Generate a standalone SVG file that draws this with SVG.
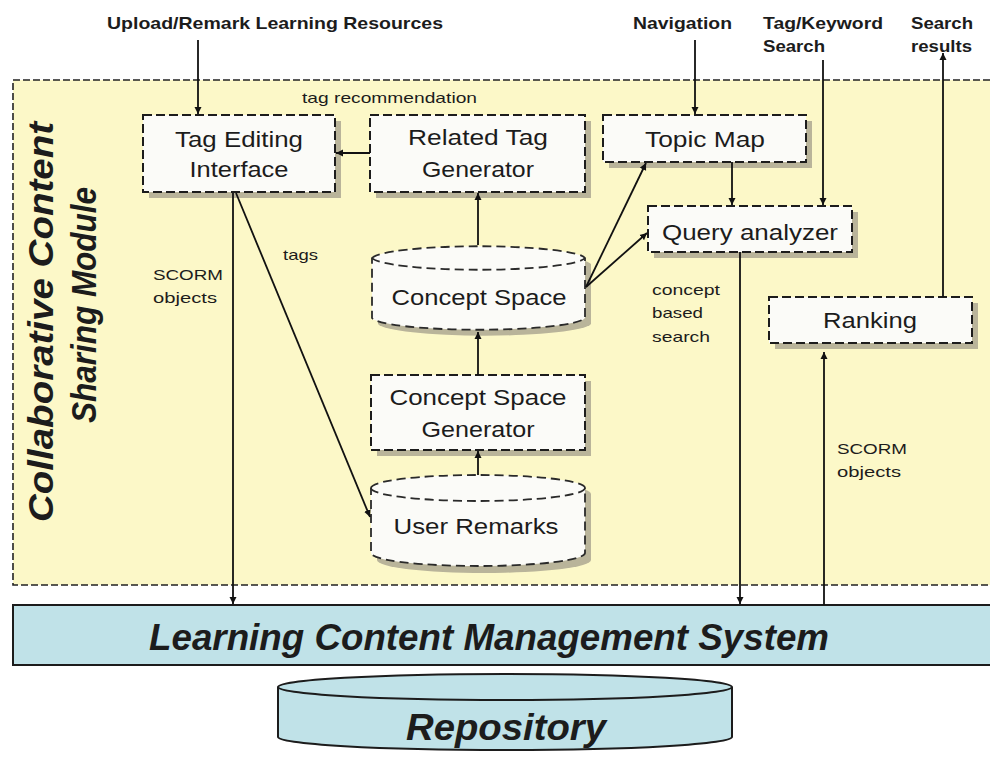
<svg xmlns="http://www.w3.org/2000/svg" width="990" height="757" viewBox="0 0 990 757">
  <style>
    text { font-family: "Liberation Sans", Arial, sans-serif; fill: #1c1c1c; }
    .top { font-size: 17px; font-weight: bold; }
    .node { font-size: 22px; text-anchor: middle; }
    .lbl { font-size: 15px; }
    .big { font-size: 37px; font-weight: bold; font-style: italic; text-anchor: middle; }
    .title { font-size: 35px; font-weight: bold; font-style: italic; text-anchor: middle; }
    .box { fill: #fbfbf8; stroke: #1c1c1c; stroke-width: 2; stroke-dasharray: 9 4; }
    .cyl { fill: #fbfbf8; stroke: #2a2a2a; stroke-width: 1.8; stroke-dasharray: 9 5; }
    .shadow { fill: #b9b49a; }
    .edge { fill: none; stroke: #111; stroke-width: 1.8; }
  </style>
  <defs>
    <marker id="arrow" markerWidth="8" markerHeight="8" refX="7" refY="4" orient="auto" markerUnits="userSpaceOnUse">
      <path d="M0,0.5 L7,4 L0,7.5 z" fill="#111"/>
    </marker>
  </defs>

  <rect width="990" height="757" fill="#ffffff"/>

  <!-- module container -->
  <g id="module">
    <rect x="13" y="80" width="990" height="505" fill="#fcf8c8" stroke="#222" stroke-width="1.6" stroke-dasharray="7 3"/>
    <text class="title" transform="translate(53,322) rotate(-90)" textLength="400" lengthAdjust="spacingAndGlyphs">Collaborative Content</text>
    <text class="title" transform="translate(96,305) rotate(-90)" textLength="236" lengthAdjust="spacingAndGlyphs">Sharing Module</text>
  </g>

  <!-- external inputs / outputs -->
  <g id="inputs">
    <text class="top" x="107" y="29" textLength="336" lengthAdjust="spacingAndGlyphs">Upload/Remark Learning Resources</text>
    <text class="top" x="633" y="29" textLength="99" lengthAdjust="spacingAndGlyphs">Navigation</text>
    <text class="top" x="763" y="29" textLength="120" lengthAdjust="spacingAndGlyphs">Tag/Keyword</text>
    <text class="top" x="763" y="52" textLength="62" lengthAdjust="spacingAndGlyphs">Search</text>
    <text class="top" x="911" y="29" textLength="62" lengthAdjust="spacingAndGlyphs">Search</text>
    <text class="top" x="911" y="52" textLength="61" lengthAdjust="spacingAndGlyphs">results</text>
  </g>

  <g id="tag-editing">
    <rect class="shadow" x="149" y="121" width="192" height="77"/>
    <rect class="box" x="143" y="115" width="192" height="77"/>
    <text class="node" x="239" y="147" textLength="128" lengthAdjust="spacingAndGlyphs">Tag Editing</text>
    <text class="node" x="239" y="177" textLength="99" lengthAdjust="spacingAndGlyphs">Interface</text>
  </g>

  <g id="related-tag">
    <rect class="shadow" x="376" y="121" width="215" height="77"/>
    <rect class="box" x="370" y="115" width="215" height="77"/>
    <text class="node" x="478" y="145" textLength="140" lengthAdjust="spacingAndGlyphs">Related Tag</text>
    <text class="node" x="478" y="177" textLength="112" lengthAdjust="spacingAndGlyphs">Generator</text>
  </g>

  <g id="topic-map">
    <rect class="shadow" x="609" y="121" width="203" height="47"/>
    <rect class="box" x="603" y="115" width="203" height="47"/>
    <text class="node" x="705" y="147" textLength="120" lengthAdjust="spacingAndGlyphs">Topic Map</text>
  </g>

  <g id="query-analyzer">
    <rect class="shadow" x="654" y="212" width="204" height="46"/>
    <rect class="box" x="648" y="206" width="204" height="46"/>
    <text class="node" x="750" y="240" textLength="176" lengthAdjust="spacingAndGlyphs">Query analyzer</text>
  </g>

  <g id="ranking">
    <rect class="shadow" x="775" y="303" width="203" height="46"/>
    <rect class="box" x="769" y="297" width="203" height="46"/>
    <text class="node" x="870" y="328" textLength="94" lengthAdjust="spacingAndGlyphs">Ranking</text>
  </g>

  <g id="concept-space">
    <path class="shadow" d="M378,264 A107,13 0 0 1 591,264 V324 A107,13 0 0 1 378,324 Z"/>
    <path class="cyl" d="M372,258 A107,13 0 0 1 585,258 V318 A107,13 0 0 1 372,318 Z"/>
    <path class="cyl" d="M372,258 A107,13 0 0 0 585,258" fill="none"/>
    <text class="node" x="479" y="305" textLength="175" lengthAdjust="spacingAndGlyphs">Concept Space</text>
  </g>

  <g id="concept-space-generator">
    <rect class="shadow" x="377" y="381" width="214" height="75"/>
    <rect class="box" x="371" y="375" width="214" height="75"/>
    <text class="node" x="478" y="405" textLength="177" lengthAdjust="spacingAndGlyphs">Concept Space</text>
    <text class="node" x="478" y="437" textLength="113" lengthAdjust="spacingAndGlyphs">Generator</text>
  </g>

  <g id="user-remarks">
    <path class="shadow" d="M377,494 A107,13 0 0 1 591,494 V560 A107,13 0 0 1 377,560 Z"/>
    <path class="cyl" d="M371,488 A107,13 0 0 1 585,488 V553 A107,13 0 0 1 371,553 Z"/>
    <path class="cyl" d="M371,488 A107,13 0 0 0 585,488" fill="none"/>
    <text class="node" x="476" y="534" textLength="165" lengthAdjust="spacingAndGlyphs">User Remarks</text>
  </g>

  <g id="lcms">
    <rect x="13" y="605" width="990" height="60" fill="#c0e2e8" stroke="#1c1c1c" stroke-width="2"/>
    <text class="big" x="489" y="650" textLength="680" lengthAdjust="spacingAndGlyphs">Learning Content Management System</text>
  </g>

  <g id="repository">
    <path d="M278,687 A227,13 0 0 1 732,687 V737 A227,13 0 0 1 278,737 Z" fill="#c0e2e8" stroke="#1c1c1c" stroke-width="2"/>
    <path d="M278,687 A227,13 0 0 0 732,687" fill="none" stroke="#1c1c1c" stroke-width="2"/>
    <text class="big" x="506" y="740" textLength="200" lengthAdjust="spacingAndGlyphs">Repository</text>
  </g>

  <!-- edge labels -->
  <g id="labels">
    <text class="lbl" x="302" y="103" textLength="175" lengthAdjust="spacingAndGlyphs">tag recommendation</text>
    <text class="lbl" x="153" y="280" textLength="70" lengthAdjust="spacingAndGlyphs">SCORM</text>
    <text class="lbl" x="153" y="303" textLength="64" lengthAdjust="spacingAndGlyphs">objects</text>
    <text class="lbl" x="283" y="260" textLength="35" lengthAdjust="spacingAndGlyphs">tags</text>
    <text class="lbl" x="652" y="295" textLength="68" lengthAdjust="spacingAndGlyphs">concept</text>
    <text class="lbl" x="652" y="318" textLength="51" lengthAdjust="spacingAndGlyphs">based</text>
    <text class="lbl" x="652" y="342" textLength="58" lengthAdjust="spacingAndGlyphs">search</text>
    <text class="lbl" x="837" y="454" textLength="70" lengthAdjust="spacingAndGlyphs">SCORM</text>
    <text class="lbl" x="837" y="477" textLength="64" lengthAdjust="spacingAndGlyphs">objects</text>
  </g>

  <!-- connectors -->
  <g id="connectors">
    <line class="edge" x1="198" y1="40" x2="198" y2="114" marker-end="url(#arrow)"/>
    <line class="edge" x1="370" y1="153" x2="336" y2="153" marker-end="url(#arrow)"/>
    <line class="edge" x1="478" y1="245" x2="478" y2="193" marker-end="url(#arrow)"/>
    <line class="edge" x1="478" y1="375" x2="478" y2="332" marker-end="url(#arrow)"/>
    <line class="edge" x1="478" y1="475" x2="478" y2="451" marker-end="url(#arrow)"/>
    <line class="edge" x1="586" y1="287" x2="646" y2="163" marker-end="url(#arrow)"/>
    <line class="edge" x1="586" y1="287" x2="647" y2="233" marker-end="url(#arrow)"/>
    <line class="edge" x1="695" y1="40" x2="695" y2="114" marker-end="url(#arrow)"/>
    <line class="edge" x1="732" y1="162" x2="732" y2="205" marker-end="url(#arrow)"/>
    <line class="edge" x1="823" y1="60" x2="823" y2="205" marker-end="url(#arrow)"/>
    <line class="edge" x1="740" y1="252" x2="740" y2="604" marker-end="url(#arrow)"/>
    <line class="edge" x1="824" y1="605" x2="824" y2="352" marker-end="url(#arrow)"/>
    <line class="edge" x1="943" y1="297" x2="943" y2="53" marker-end="url(#arrow)"/>
    <line class="edge" x1="233" y1="193" x2="233" y2="604" marker-end="url(#arrow)"/>
    <line class="edge" x1="236" y1="193" x2="370" y2="517" marker-end="url(#arrow)"/>
  </g>
</svg>
